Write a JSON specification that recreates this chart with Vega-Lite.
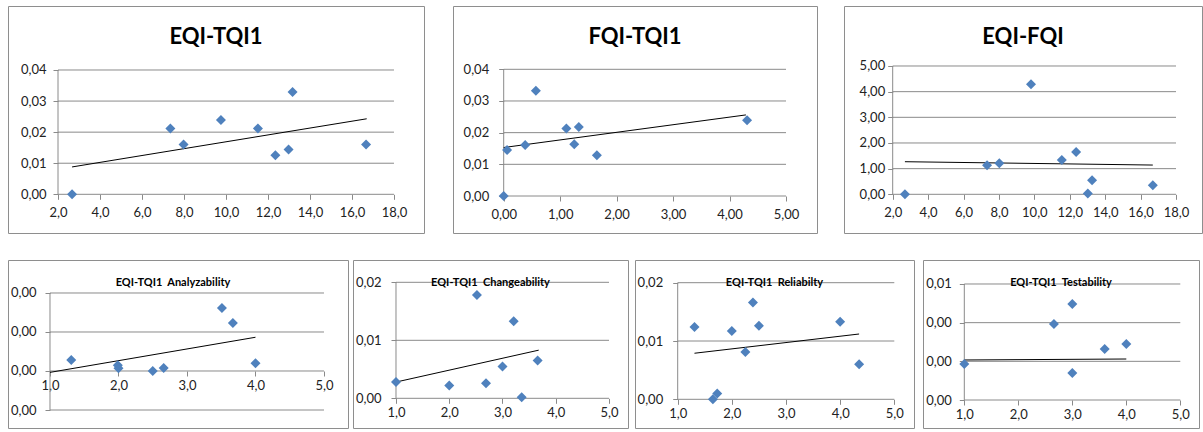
{
  "$schema": "https://vega.github.io/schema/vega-lite/v6.json",
  "padding": {"left": 7, "top": 5, "right": 0, "bottom": 0},
  "background": "white",
  "datasets": {
    "pts": [
      {"p": 1, "x": 2.67, "y": 0}, {"p": 1, "x": 7.35, "y": 0.0212}, {"p": 1, "x": 7.98, "y": 0.016}, {"p": 1, "x": 9.76, "y": 0.0239}, {"p": 1, "x": 11.52, "y": 0.0212}, {"p": 1, "x": 12.35, "y": 0.0126}, {"p": 1, "x": 12.98, "y": 0.0144}, {"p": 1, "x": 13.17, "y": 0.0329}, {"p": 1, "x": 16.67, "y": 0.016},
      {"p": 2, "x": 0, "y": 0}, {"p": 2, "x": 0.06, "y": 0.0145}, {"p": 2, "x": 0.38, "y": 0.0161}, {"p": 2, "x": 0.57, "y": 0.0332}, {"p": 2, "x": 1.11, "y": 0.0213}, {"p": 2, "x": 1.25, "y": 0.0163}, {"p": 2, "x": 1.33, "y": 0.0218}, {"p": 2, "x": 1.65, "y": 0.0129}, {"p": 2, "x": 4.31, "y": 0.0239},
      {"p": 3, "x": 2.69, "y": 0}, {"p": 3, "x": 7.33, "y": 1.13}, {"p": 3, "x": 8.02, "y": 1.21}, {"p": 3, "x": 9.81, "y": 4.29}, {"p": 3, "x": 11.55, "y": 1.34}, {"p": 3, "x": 12.36, "y": 1.65}, {"p": 3, "x": 13.02, "y": 0.03}, {"p": 3, "x": 13.26, "y": 0.55}, {"p": 3, "x": 16.69, "y": 0.35},
      {"p": 4, "x": 1.31, "y": 0.00056}, {"p": 4, "x": 1.99, "y": 0.0003}, {"p": 4, "x": 2.0, "y": 0.00014}, {"p": 4, "x": 2.5, "y": 0}, {"p": 4, "x": 2.66, "y": 0.00015}, {"p": 4, "x": 3.51, "y": 0.00323}, {"p": 4, "x": 3.67, "y": 0.00246}, {"p": 4, "x": 4.0, "y": 0.0004},
      {"p": 5, "x": 1.0, "y": 0.0028}, {"p": 5, "x": 2.0, "y": 0.0022}, {"p": 5, "x": 2.52, "y": 0.0178}, {"p": 5, "x": 2.69, "y": 0.0026}, {"p": 5, "x": 3.0, "y": 0.0055}, {"p": 5, "x": 3.21, "y": 0.0133}, {"p": 5, "x": 3.36, "y": 0.0002}, {"p": 5, "x": 3.66, "y": 0.0065},
      {"p": 6, "x": 1.31, "y": 0.0124}, {"p": 6, "x": 1.65, "y": 0.0}, {"p": 6, "x": 1.73, "y": 0.001}, {"p": 6, "x": 2.0, "y": 0.0117}, {"p": 6, "x": 2.25, "y": 0.0081}, {"p": 6, "x": 2.39, "y": 0.0166}, {"p": 6, "x": 2.5, "y": 0.0126}, {"p": 6, "x": 4.0, "y": 0.0133}, {"p": 6, "x": 4.35, "y": 0.006},
      {"p": 7, "x": 1.0, "y": 0.00186}, {"p": 7, "x": 2.66, "y": 0.00393}, {"p": 7, "x": 3.0, "y": 0.00497}, {"p": 7, "x": 3.0, "y": 0.0014}, {"p": 7, "x": 3.6, "y": 0.00264}, {"p": 7, "x": 4.0, "y": 0.0029}
    ],
    "trend": [
      {"p": 1, "x": 2.67, "y": 0.0088}, {"p": 1, "x": 16.7, "y": 0.0243},
      {"p": 2, "x": 0, "y": 0.0153}, {"p": 2, "x": 4.29, "y": 0.0256},
      {"p": 3, "x": 2.69, "y": 1.27}, {"p": 3, "x": 16.69, "y": 1.14},
      {"p": 4, "x": 1.0, "y": -0.00007}, {"p": 4, "x": 4.0, "y": 0.00173},
      {"p": 5, "x": 1.0, "y": 0.0028}, {"p": 5, "x": 3.68, "y": 0.0083},
      {"p": 6, "x": 1.31, "y": 0.0079}, {"p": 6, "x": 4.35, "y": 0.0112},
      {"p": 7, "x": 1.0, "y": 0.00207}, {"p": 7, "x": 4.0, "y": 0.00212}
    ],
    "grid": [
      {"p": 1, "y": 0}, {"p": 1, "y": 0.01}, {"p": 1, "y": 0.02}, {"p": 1, "y": 0.03}, {"p": 1, "y": 0.04},
      {"p": 2, "y": 0}, {"p": 2, "y": 0.01}, {"p": 2, "y": 0.02}, {"p": 2, "y": 0.03}, {"p": 2, "y": 0.04},
      {"p": 3, "y": 0}, {"p": 3, "y": 1}, {"p": 3, "y": 2}, {"p": 3, "y": 3}, {"p": 3, "y": 4}, {"p": 3, "y": 5},
      {"p": 4, "y": -0.002}, {"p": 4, "y": 0}, {"p": 4, "y": 0.002}, {"p": 4, "y": 0.004},
      {"p": 5, "y": 0}, {"p": 5, "y": 0.01}, {"p": 5, "y": 0.02},
      {"p": 6, "y": 0}, {"p": 6, "y": 0.01}, {"p": 6, "y": 0.02},
      {"p": 7, "y": 0}, {"p": 7, "y": 0.002}, {"p": 7, "y": 0.004}, {"p": 7, "y": 0.006}
    ]
  },
  "vconcat": [
    {
      "hconcat": [
        {
          "width": 416, "height": 227,
          "title": {"text": "EQI-TQI1", "fontSize": 22, "offset": -43},
          "layer": [
            {"data": {"name": "grid"}, "transform": [{"filter": "datum.p == 1"}],
             "mark": {"type": "rule", "color": "#8a8a8a", "strokeWidth": 1},
             "encoding": {
               "x": {"datum": 2, "type": "quantitative", "scale": {"domain": [-0.381, 19.4286], "nice": false, "zero": false},
                     "axis": {"title": null, "values": [2, 4, 6, 8, 10, 12, 14, 16, 18], "offset": -38.7, "labelPadding": 7, "labelExpr": "replace(format(datum.value, '.1f'), '.', ',')"}},
               "x2": {"datum": 18},
               "y": {"field": "y", "type": "quantitative", "scale": {"domain": [-0.012454, 0.060595], "nice": false, "zero": false},
                     "axis": {"title": null, "values": [0, 0.01, 0.02, 0.03, 0.04], "offset": -50, "labelPadding": 7, "labelExpr": "replace(format(datum.value, '.2f'), '.', ',')"}}
             }},
            {"data": {"values": [{}]}, "mark": {"type": "rule", "color": "#8a8a8a", "strokeWidth": 1},
             "encoding": {"x": {"datum": 2, "type": "quantitative"}, "y": {"datum": 0, "type": "quantitative"}, "y2": {"datum": 0.04}}},
            {"data": {"name": "trend"}, "transform": [{"filter": "datum.p == 1"}],
             "mark": {"type": "line", "color": "#000000", "strokeWidth": 1},
             "encoding": {"x": {"field": "x", "type": "quantitative"}, "y": {"field": "y", "type": "quantitative"}}},
            {"data": {"name": "pts"}, "transform": [{"filter": "datum.p == 1"}],
             "mark": {"type": "point", "shape": "diamond", "filled": true, "color": "#4F81BD", "size": 100, "opacity": 1},
             "encoding": {"x": {"field": "x", "type": "quantitative"}, "y": {"field": "y", "type": "quantitative"}}}
          ]
        },
        {
          "hconcat": [
            {
              "width": 364, "height": 227,
              "title": {"text": "FQI-TQI1", "fontSize": 22, "offset": -43},
              "layer": [
                {"data": {"name": "grid"}, "transform": [{"filter": "datum.p == 2"}],
                 "mark": {"type": "rule", "color": "#8a8a8a", "strokeWidth": 1},
                 "encoding": {
                   "x": {"datum": 0, "type": "quantitative", "scale": {"domain": [-0.898, 5.549], "nice": false, "zero": false},
                         "axis": {"title": null, "values": [0, 1, 2, 3, 4, 5], "offset": -37, "labelPadding": 7, "labelExpr": "replace(format(datum.value, '.2f'), '.', ',')"}},
                   "x2": {"datum": 5},
                   "y": {"field": "y", "type": "quantitative", "scale": {"domain": [-0.011681, 0.059984], "nice": false, "zero": false},
                         "axis": {"title": null, "values": [0, 0.01, 0.02, 0.03, 0.04], "offset": -50.7, "labelPadding": 10, "labelExpr": "replace(format(datum.value, '.2f'), '.', ',')"}}
                 }},
                {"data": {"values": [{}]}, "mark": {"type": "rule", "color": "#8a8a8a", "strokeWidth": 1},
                 "encoding": {"x": {"datum": 0, "type": "quantitative"}, "y": {"datum": 0, "type": "quantitative"}, "y2": {"datum": 0.04}}},
                {"data": {"name": "trend"}, "transform": [{"filter": "datum.p == 2"}],
                 "mark": {"type": "line", "color": "#000000", "strokeWidth": 1},
                 "encoding": {"x": {"field": "x", "type": "quantitative"}, "y": {"field": "y", "type": "quantitative"}}},
                {"data": {"name": "pts"}, "transform": [{"filter": "datum.p == 2"}],
                 "mark": {"type": "point", "shape": "diamond", "filled": true, "color": "#4F81BD", "size": 100, "opacity": 1},
                 "encoding": {"x": {"field": "x", "type": "quantitative"}, "y": {"field": "y", "type": "quantitative"}}}
              ]
            },
            {
              "width": 358, "height": 227,
              "title": {"text": "EQI-FQI", "fontSize": 22, "offset": -43},
              "layer": [
                {"data": {"name": "grid"}, "transform": [{"filter": "datum.p == 3"}],
                 "mark": {"type": "rule", "color": "#8a8a8a", "strokeWidth": 1},
                 "encoding": {
                   "x": {"datum": 2, "type": "quantitative", "scale": {"domain": [-0.75, 19.468], "nice": false, "zero": false},
                         "axis": {"title": null, "values": [2, 4, 6, 8, 10, 12, 14, 16, 18], "offset": -38.7, "labelPadding": 7, "labelExpr": "replace(format(datum.value, '.1f'), '.', ',')"}},
                   "x2": {"datum": 18},
                   "y": {"field": "y", "type": "quantitative", "scale": {"domain": [-1.508, 7.338], "nice": false, "zero": false},
                         "axis": {"title": null, "values": [0, 1, 2, 3, 4, 5], "offset": -48.7, "labelPadding": 3, "labelExpr": "replace(format(datum.value, '.2f'), '.', ',')"}}
                 }},
                {"data": {"values": [{}]}, "mark": {"type": "rule", "color": "#8a8a8a", "strokeWidth": 1},
                 "encoding": {"x": {"datum": 2, "type": "quantitative"}, "y": {"datum": 0, "type": "quantitative"}, "y2": {"datum": 5}}},
                {"data": {"name": "trend"}, "transform": [{"filter": "datum.p == 3"}],
                 "mark": {"type": "line", "color": "#000000", "strokeWidth": 1},
                 "encoding": {"x": {"field": "x", "type": "quantitative"}, "y": {"field": "y", "type": "quantitative"}}},
                {"data": {"name": "pts"}, "transform": [{"filter": "datum.p == 3"}],
                 "mark": {"type": "point", "shape": "diamond", "filled": true, "color": "#4F81BD", "size": 100, "opacity": 1},
                 "encoding": {"x": {"field": "x", "type": "quantitative"}, "y": {"field": "y", "type": "quantitative"}}}
              ]
            }
          ],
          "spacing": 27,
          "bounds": "flush"
        }
      ],
      "spacing": 29,
      "bounds": "flush"
    },
    {
      "hconcat": [
        {
          "width": 340, "height": 168,
          "title": {"text": "EQI-TQI1\u00a0 Analyzability", "fontSize": 11, "offset": -28, "dx": -5},
          "layer": [
            {"data": {"name": "grid"}, "transform": [{"filter": "datum.p == 4"}],
             "mark": {"type": "rule", "color": "#8a8a8a", "strokeWidth": 1},
             "encoding": {
               "x": {"datum": 1, "type": "quantitative", "scale": {"domain": [0.3869, 5.3504], "nice": false, "zero": false},
                     "axis": {"title": null, "values": [1, 2, 3, 4, 5], "offset": -57, "labelPadding": 3, "labelExpr": "replace(format(datum.value, '.1f'), '.', ',')"}},
               "x2": {"datum": 5},
               "y": {"field": "y", "type": "quantitative", "scale": {"domain": [-0.002923, 0.005692], "nice": false, "zero": false},
                     "axis": {"title": null, "values": [-0.002, 0, 0.002, 0.004], "offset": -42, "labelPadding": 9, "labelExpr": "replace(format(datum.value, '.2f'), '.', ',')"}}
             }},
            {"data": {"values": [{}]}, "mark": {"type": "rule", "color": "#8a8a8a", "strokeWidth": 1},
             "encoding": {"x": {"datum": 1, "type": "quantitative"}, "y": {"datum": -0.002, "type": "quantitative"}, "y2": {"datum": 0.004}}},
            {"data": {"name": "trend"}, "transform": [{"filter": "datum.p == 4"}],
             "mark": {"type": "line", "color": "#000000", "strokeWidth": 1},
             "encoding": {"x": {"field": "x", "type": "quantitative"}, "y": {"field": "y", "type": "quantitative"}}},
            {"data": {"name": "pts"}, "transform": [{"filter": "datum.p == 4"}],
             "mark": {"type": "point", "shape": "diamond", "filled": true, "color": "#4F81BD", "size": 100, "opacity": 1},
             "encoding": {"x": {"field": "x", "type": "quantitative"}, "y": {"field": "y", "type": "quantitative"}}}
          ]
        },
        {
          "hconcat": [
            {
              "width": 275, "height": 168,
              "title": {"text": "EQI-TQI1\u00a0 Changeability", "fontSize": 11, "offset": -28},
              "layer": [
                {"data": {"name": "grid"}, "transform": [{"filter": "datum.p == 5"}],
                 "mark": {"type": "rule", "color": "#8a8a8a", "strokeWidth": 1},
                 "encoding": {
                   "x": {"datum": 1, "type": "quantitative", "scale": {"domain": [0.1925, 5.3568], "nice": false, "zero": false},
                         "axis": {"title": null, "values": [1, 2, 3, 4, 5], "offset": -29.7, "labelPadding": 3, "labelExpr": "replace(format(datum.value, '.1f'), '.', ',')"}},
                   "x2": {"datum": 5},
                   "y": {"field": "y", "type": "quantitative", "scale": {"domain": [-0.005121, 0.023845], "nice": false, "zero": false},
                         "axis": {"title": null, "values": [0, 0.01, 0.02], "offset": -43, "labelPadding": 10, "labelExpr": "replace(format(datum.value, '.2f'), '.', ',')"}}
                 }},
                {"data": {"values": [{}]}, "mark": {"type": "rule", "color": "#8a8a8a", "strokeWidth": 1},
                 "encoding": {"x": {"datum": 1, "type": "quantitative"}, "y": {"datum": 0, "type": "quantitative"}, "y2": {"datum": 0.02}}},
                {"data": {"name": "trend"}, "transform": [{"filter": "datum.p == 5"}],
                 "mark": {"type": "line", "color": "#000000", "strokeWidth": 1},
                 "encoding": {"x": {"field": "x", "type": "quantitative"}, "y": {"field": "y", "type": "quantitative"}}},
                {"data": {"name": "pts"}, "transform": [{"filter": "datum.p == 5"}],
                 "mark": {"type": "point", "shape": "diamond", "filled": true, "color": "#4F81BD", "size": 100, "opacity": 1},
                 "encoding": {"x": {"field": "x", "type": "quantitative"}, "y": {"field": "y", "type": "quantitative"}}}
              ]
            },
            {
              "hconcat": [
                {
                  "width": 279, "height": 168,
                  "title": {"text": "EQI-TQI1\u00a0 Reliabilty", "fontSize": 11, "offset": -28},
                  "layer": [
                    {"data": {"name": "grid"}, "transform": [{"filter": "datum.p == 6"}],
                     "mark": {"type": "rule", "color": "#8a8a8a", "strokeWidth": 1},
                     "encoding": {
                       "x": {"datum": 1, "type": "quantitative", "scale": {"domain": [0.2117, 5.3637], "nice": false, "zero": false},
                             "axis": {"title": null, "values": [1, 2, 3, 4, 5], "offset": -28.7, "labelPadding": 3, "labelExpr": "replace(format(datum.value, '.1f'), '.', ',')"}},
                       "x2": {"datum": 5},
                       "y": {"field": "y", "type": "quantitative", "scale": {"domain": [-0.004923, 0.023894], "nice": false, "zero": false},
                             "axis": {"title": null, "values": [0, 0.01, 0.02], "offset": -42.7, "labelPadding": 10, "labelExpr": "replace(format(datum.value, '.2f'), '.', ',')"}}
                     }},
                    {"data": {"values": [{}]}, "mark": {"type": "rule", "color": "#8a8a8a", "strokeWidth": 1},
                     "encoding": {"x": {"datum": 1, "type": "quantitative"}, "y": {"datum": 0, "type": "quantitative"}, "y2": {"datum": 0.02}}},
                    {"data": {"name": "trend"}, "transform": [{"filter": "datum.p == 6"}],
                     "mark": {"type": "line", "color": "#000000", "strokeWidth": 1},
                     "encoding": {"x": {"field": "x", "type": "quantitative"}, "y": {"field": "y", "type": "quantitative"}}},
                    {"data": {"name": "pts"}, "transform": [{"filter": "datum.p == 6"}],
                     "mark": {"type": "point", "shape": "diamond", "filled": true, "color": "#4F81BD", "size": 100, "opacity": 1},
                     "encoding": {"x": {"field": "x", "type": "quantitative"}, "y": {"field": "y", "type": "quantitative"}}}
                  ]
                },
                {
                  "width": 276, "height": 168,
                  "title": {"text": "EQI-TQI1\u00a0 Testability", "fontSize": 11, "offset": -28},
                  "layer": [
                    {"data": {"name": "grid"}, "transform": [{"filter": "datum.p == 7"}],
                     "mark": {"type": "rule", "color": "#8a8a8a", "strokeWidth": 1},
                     "encoding": {
                       "x": {"datum": 1, "type": "quantitative", "scale": {"domain": [0.2352, 5.3463], "nice": false, "zero": false},
                             "axis": {"title": null, "values": [1, 2, 3, 4, 5], "offset": -28, "labelPadding": 3, "labelExpr": "replace(format(datum.value, '.1f'), '.', ',')"}},
                       "x2": {"datum": 5},
                       "y": {"field": "y", "type": "quantitative", "scale": {"domain": [-0.001448, 0.007241], "nice": false, "zero": false},
                             "axis": {"title": null, "values": [0, 0.002, 0.004, 0.006], "offset": -41.3, "labelPadding": 8, "labelExpr": "replace(format(datum.value, '.2f'), '.', ',')"}}
                     }},
                    {"data": {"values": [{}]}, "mark": {"type": "rule", "color": "#8a8a8a", "strokeWidth": 1},
                     "encoding": {"x": {"datum": 1, "type": "quantitative"}, "y": {"datum": 0, "type": "quantitative"}, "y2": {"datum": 0.006}}},
                    {"data": {"name": "trend"}, "transform": [{"filter": "datum.p == 7"}],
                     "mark": {"type": "line", "color": "#000000", "strokeWidth": 1},
                     "encoding": {"x": {"field": "x", "type": "quantitative"}, "y": {"field": "y", "type": "quantitative"}}},
                    {"data": {"name": "pts"}, "transform": [{"filter": "datum.p == 7"}],
                     "mark": {"type": "point", "shape": "diamond", "filled": true, "color": "#4F81BD", "size": 100, "opacity": 1},
                     "encoding": {"x": {"field": "x", "type": "quantitative"}, "y": {"field": "y", "type": "quantitative"}}}
                  ]
                }
              ],
              "spacing": 9,
              "bounds": "flush"
            }
          ],
          "spacing": 7,
          "bounds": "flush"
        }
      ],
      "spacing": 5,
      "bounds": "flush"
    }
  ],
  "spacing": 25,
  "config": {
    "view": {"stroke": "#8e8e8e", "strokeWidth": 1},
    "axis": {"domain": false, "grid": false, "ticks": true, "tickSize": 5, "tickColor": "#8a8a8a", "labelFont": "Lato", "labelFontSize": 13, "labelColor": "#222222", "labelOverlap": false, "labelFlush": false},
    "title": {"font": "Lato", "fontWeight": "bold", "color": "#000000", "anchor": "middle", "frame": "group", "baseline": "middle"}
  }
}
